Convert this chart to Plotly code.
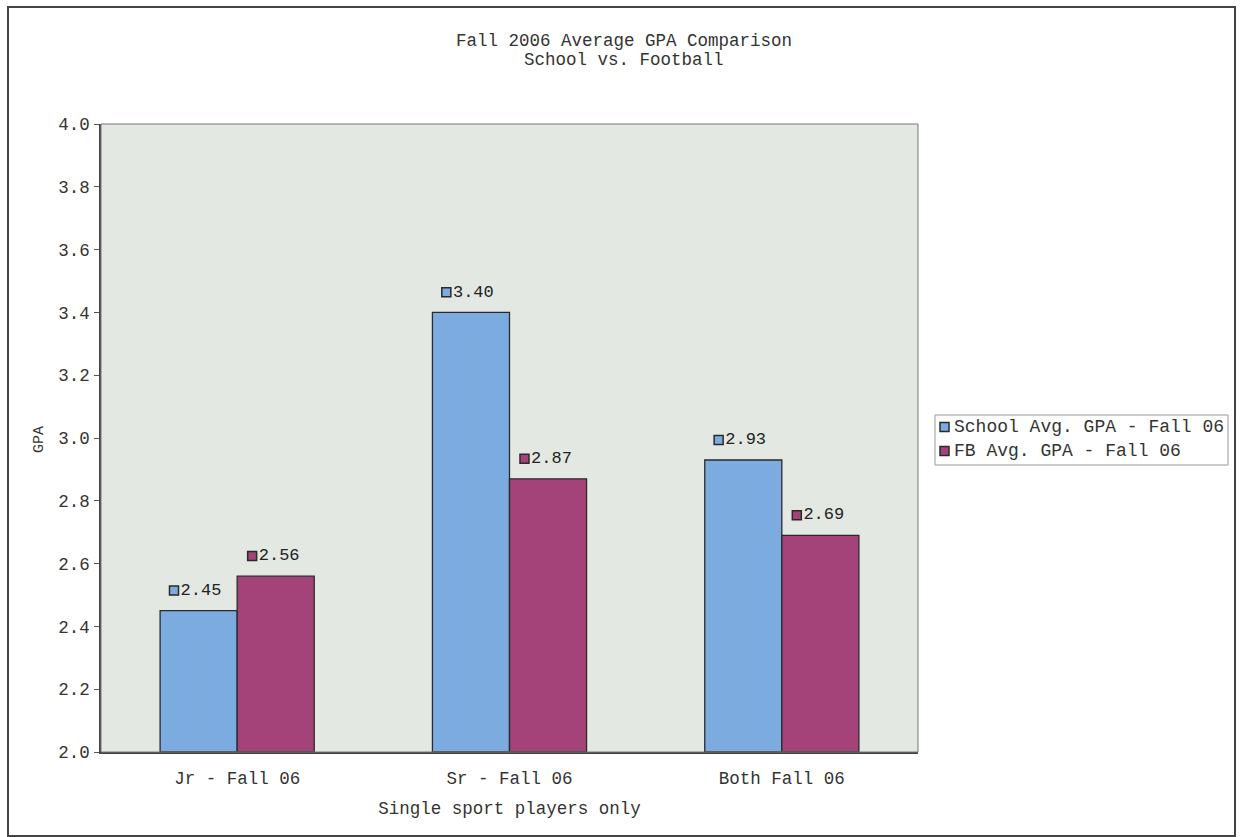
import plotly.graph_objects as go

categories = ["Jr - Fall 06", "Sr - Fall 06", "Both Fall 06"]
school_gpa = [2.45, 3.40, 2.93]
fb_gpa = [2.56, 2.87, 2.69]
school_labels = ["2.45", "3.40", "2.93"]
fb_labels = ["2.56", "2.87", "2.69"]
y_ticks = [2.0, 2.2, 2.4, 2.6, 2.8, 3.0, 3.2, 3.4, 3.6, 3.8, 4.0]
series_names = ["School Avg. GPA - Fall 06", "FB Avg. GPA - Fall 06"]
title_lines = ["Fall 2006 Average GPA Comparison", "School vs. Football"]

FONT = "Liberation Mono, Courier New, monospace"
BLUE = "#7cabe0"
MAGENTA = "#a3437a"
EDGE = "#2a2a2a"
TXT = "#333"
BAR_W = 0.283
LABEL_OFF = 0.064

# plot area in pixels (for paper-coordinate decorations)
L, R, T, B = 101, 918, 124, 752
W_PX, H_PX = R - L, B - T


def px_x(p):
    return (p - L) / W_PX


def px_y(p):
    return (B - p) / H_PX


idx = list(range(len(categories)))
fig = go.Figure()

fig.add_trace(go.Bar(x=idx, y=[v - 2.0 for v in school_gpa], base=2.0, width=BAR_W, offset=-BAR_W,
                     marker=dict(color=BLUE, line=dict(color=EDGE, width=1.3)),
                     name=series_names[0], showlegend=False))
fig.add_trace(go.Bar(x=idx, y=[v - 2.0 for v in fb_gpa], base=2.0, width=BAR_W, offset=0,
                     marker=dict(color=MAGENTA, line=dict(color=EDGE, width=1.3)),
                     name=series_names[1], showlegend=False))

fig.add_trace(go.Scatter(x=[i - 0.232 for i in idx], y=[v + LABEL_OFF for v in school_gpa],
                         mode="markers+text", text=school_labels, textposition="middle right",
                         textfont=dict(family=FONT, size=17, color="#222"),
                         marker=dict(symbol="square", size=9, color=BLUE, line=dict(color=EDGE, width=1.5)),
                         showlegend=False, cliponaxis=False))
fig.add_trace(go.Scatter(x=[i + 0.055 for i in idx], y=[v + LABEL_OFF for v in fb_gpa],
                         mode="markers+text", text=fb_labels, textposition="middle right",
                         textfont=dict(family=FONT, size=17, color="#222"),
                         marker=dict(symbol="square", size=9, color=MAGENTA, line=dict(color=EDGE, width=1.5)),
                         showlegend=False, cliponaxis=False))

shapes = [
    # outer frame
    dict(type="rect", xref="paper", yref="paper",
         x0=px_x(8), x1=px_x(1235), y0=px_y(836), y1=px_y(7),
         line=dict(color="#444", width=2), fillcolor="rgba(0,0,0,0)", layer="below"),
    # plot area border (top / right lighter)
    dict(type="rect", xref="paper", yref="paper", x0=0, x1=1, y0=0, y1=1,
         line=dict(color="#777", width=1), fillcolor="rgba(0,0,0,0)", layer="above"),
    # legend box
    dict(type="rect", xref="paper", yref="paper",
         x0=px_x(935), x1=px_x(1228), y0=px_y(465), y1=px_y(415),
         line=dict(color="#999", width=1), fillcolor="white"),
]
annotations = []
legend_colors = [BLUE, MAGENTA]
legend_rows = [427, 451]
for name, col, yy in zip(series_names, legend_colors, legend_rows):
    shapes.append(dict(type="rect", xref="paper", yref="paper",
                       x0=px_x(940), x1=px_x(949), y0=px_y(yy + 4.5), y1=px_y(yy - 4.5),
                       line=dict(color=EDGE, width=1.5), fillcolor=col))
    annotations.append(dict(text=name, xref="paper", yref="paper", x=px_x(952), y=px_y(yy),
                            xanchor="left", yanchor="middle", showarrow=False,
                            font=dict(family=FONT, size=18, color=TXT)))

# title lines
for line, yy in zip(title_lines, [41, 60]):
    annotations.append(dict(text=line, xref="paper", yref="paper", x=px_x(624), y=px_y(yy),
                            xanchor="center", yanchor="middle", showarrow=False,
                            font=dict(family=FONT, size=17.5, color=TXT)))

# y axis title
annotations.append(dict(text="GPA", xref="paper", yref="paper", x=px_x(39), y=px_y(440),
                        xanchor="center", yanchor="middle", showarrow=False, textangle=-90,
                        font=dict(family=FONT, size=15, color=TXT)))

fig.update_layout(
    width=1242, height=837,
    margin=dict(l=L, r=1242 - R, t=T, b=837 - B),
    paper_bgcolor="white",
    plot_bgcolor="#e3e9e2",
    font=dict(family=FONT, size=18, color=TXT),
    showlegend=False,
    xaxis=dict(range=[-0.5, 2.5], tickvals=idx, ticktext=categories,
               showgrid=False, zeroline=False,
               showline=True, linecolor="#444", linewidth=1.5, mirror=False,
               ticks="", ticklabelstandoff=9,
               tickfont=dict(family=FONT, size=17.5, color=TXT),
               title=dict(text="Single sport players only", standoff=14,
                          font=dict(family=FONT, size=17.5, color=TXT))),
    yaxis=dict(range=[2.0, 4.0], tickvals=y_ticks, ticktext=[f"{t:.1f}" for t in y_ticks],
               showgrid=False, zeroline=False,
               showline=True, linecolor="#444", linewidth=1.5, mirror=False,
               ticks="outside", ticklen=5, tickcolor="#555", ticklabelstandoff=1,
               tickfont=dict(family=FONT, size=17.5, color=TXT)),
    shapes=shapes,
    annotations=annotations,
)

fig.write_html("out.html")
